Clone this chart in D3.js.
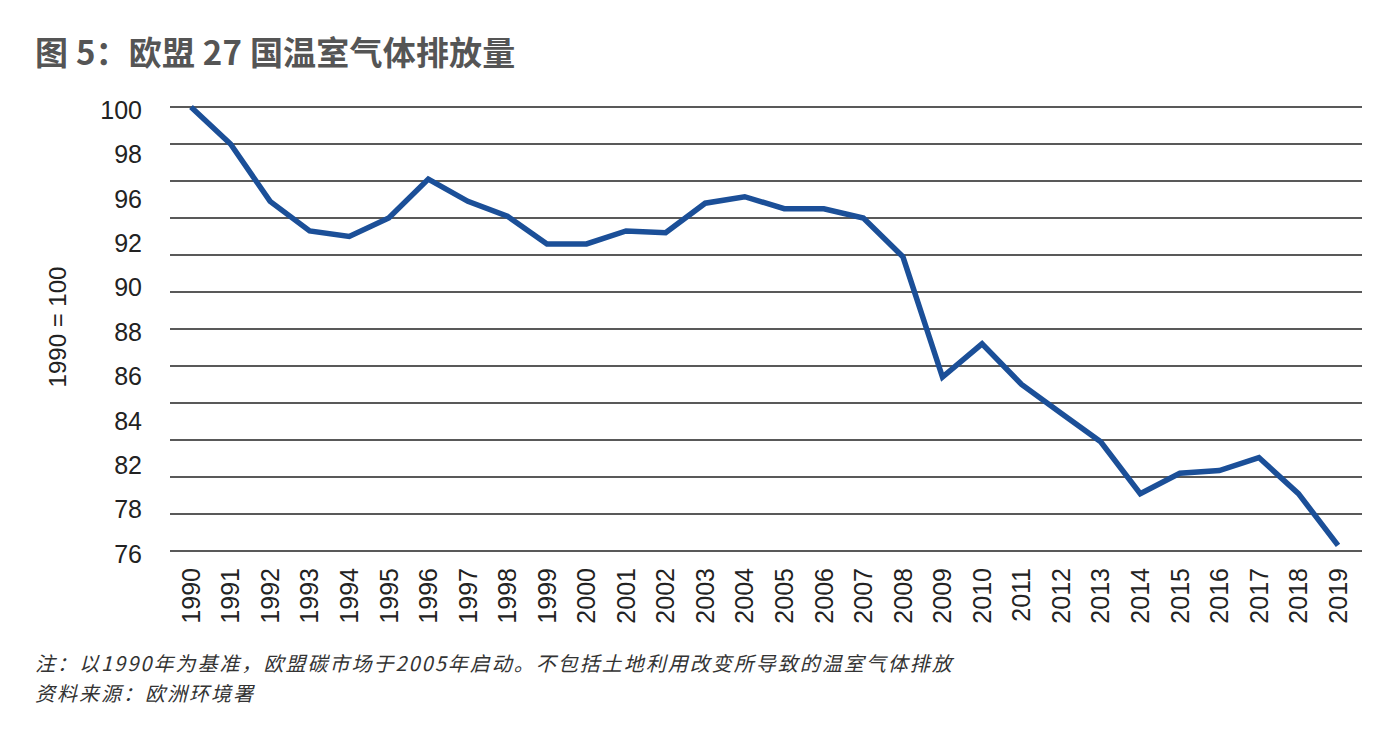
<!DOCTYPE html>
<html><head><meta charset="utf-8">
<script src="https://cdn.jsdelivr.net/npm/d3@7"></script>
<style>
html,body{margin:0;padding:0;background:#fff;}
svg{display:block;}
</style></head>
<body>
<svg id="c" width="1398" height="748"></svg>
<script>
const years = [1990,1991,1992,1993,1994,1995,1996,1997,1998,1999,2000,2001,2002,2003,2004,2005,2006,2007,2008,2009,2010,2011,2012,2013,2014,2015,2016,2017,2018,2019];
const emissions = [100,98.0,94.9,93.3,93.0,94.0,96.1,94.9,94.1,92.6,92.6,93.3,93.2,94.8,95.15,94.5,94.5,94.0,91.9,85.4,87.2,85.0,83.45,81.9,79.1,80.2,80.35,81.05,79.1,76.3];
const gridValues = [100,98,96,94,92,90,88,86,84,82,80,78,76];
const yTickLabels = ["100","98","96","92","90","88","86","84","82","78","76"];
const titleText = "图 5：欧盟 27 国温室气体排放量";
const yAxisTitle = "1990 = 100";
const noteText = "注：以1990年为基准，欧盟碳市场于2005年启动。不包括土地利用改变所导致的温室气体排放";
const sourceText = "资料来源：欧洲环境署";

const svg = d3.select("#c");
const font = "'Liberation Sans', Arial, 'Noto Sans CJK SC', sans-serif";
const cjk = "'Noto Sans CJK SC', 'Liberation Sans', sans-serif";

const plot = {left:170, right:1362, top:107, bottom:551};
const x = d3.scaleLinear().domain([1990,2019]).range([191,1338]);
const y = d3.scaleLinear().domain([76,100]).range([plot.bottom, plot.top]);
const yLab = d3.scalePoint().domain(yTickLabels).range([110,554]);

// title
svg.append("text").attr("x",35).attr("y",65)
  .attr("font-family",cjk).attr("font-weight","bold").attr("font-size",33)
  .attr("letter-spacing",0.2)
  .attr("fill","#555").text(titleText);

// gridlines
svg.append("g").selectAll("line").data(gridValues).join("line")
  .attr("x1",plot.left).attr("x2",plot.right)
  .attr("y1",d=>y(d)).attr("y2",d=>y(d))
  .attr("stroke","#222").attr("stroke-width",1.6);

// y labels
svg.append("g").selectAll("text").data(yTickLabels).join("text")
  .attr("x",142).attr("y",d=>yLab(d)).attr("dy","0.35em")
  .attr("text-anchor","end").attr("font-family",font).attr("font-size",25)
  .attr("fill","#222").text(d=>d);

// y axis title
svg.append("text").attr("transform","translate(66,327) rotate(-90)")
  .attr("text-anchor","middle").attr("font-family",font).attr("font-size",24)
  .attr("fill","#222").text(yAxisTitle);

// x labels
svg.append("g").selectAll("text").data(years).join("text")
  .attr("transform",d=>`translate(${x(d)},568) rotate(-90)`)
  .attr("dy","0.35em").attr("text-anchor","end")
  .attr("font-family",font).attr("font-size",25).attr("fill","#222").text(d=>d);

// line
const line = d3.line().x((d,i)=>x(years[i])).y(d=>y(d));
svg.append("path").datum(emissions).attr("d",line)
  .attr("fill","none").attr("stroke","#1b4f98").attr("stroke-width",5.5)
  .attr("stroke-linejoin","miter");

// notes
svg.append("text").attr("x",35).attr("y",671)
  .attr("font-family",cjk).attr("font-size",20).attr("font-style","italic")
  .attr("letter-spacing",2)
  .attr("fill","#333").text(noteText);
svg.append("text").attr("x",35).attr("y",701)
  .attr("font-family",cjk).attr("font-size",20).attr("font-style","italic")
  .attr("letter-spacing",2)
  .attr("fill","#333").text(sourceText);
</script>
</body></html>
